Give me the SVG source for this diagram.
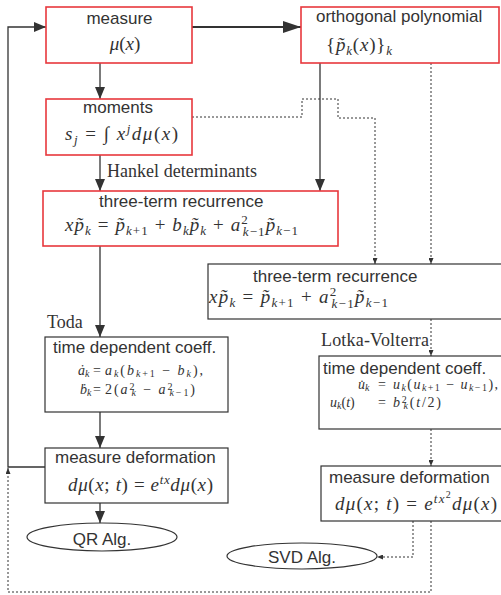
<svg xmlns="http://www.w3.org/2000/svg" width="501" height="595" viewBox="0 0 501 595">
<style>
.t{font-family:"Liberation Sans",Arial,sans-serif;font-size:17px;fill:#333}
.m{font-family:"Liberation Serif","Times New Roman",serif;font-size:19px;fill:#333}
.sm{font-family:"Liberation Serif","Times New Roman",serif;font-size:14px;fill:#333}
.lb{font-family:"Liberation Serif","Times New Roman",serif;font-size:18px;fill:#333}
.i{font-style:italic}
.s{font-size:13px}
.ss{font-size:10px}
.rb{fill:#fff;stroke:#e8383d;stroke-width:1.6}
.gb{fill:#fff;stroke:#333;stroke-width:1.2}
.ln{fill:none;stroke:#333;stroke-width:1.3}
.dt{fill:none;stroke:#333;stroke-width:1;stroke-dasharray:2,2}
</style>
<defs>
<marker id="a" markerUnits="userSpaceOnUse" viewBox="0 0 12 10" markerWidth="12" markerHeight="10" refX="12" refY="5" orient="auto"><path d="M0,0 L12,5 L0,10 Z" fill="#333"/></marker>
<marker id="A" markerUnits="userSpaceOnUse" viewBox="0 0 18 12" markerWidth="18" markerHeight="12" refX="18" refY="6" orient="auto"><path d="M0,0 L18,6 L0,12 Z" fill="#333"/></marker>
<marker id="d" markerUnits="userSpaceOnUse" viewBox="0 0 6 5" markerWidth="6" markerHeight="5" refX="6" refY="2.5" orient="auto"><path d="M0,0 L6,2.5 L0,5 Z" fill="#333"/></marker>
</defs>

<g id="connectors">
<path class="ln" d="M100,63 V99" marker-end="url(#a)"/>
<path class="ln" d="M100,155 V191" marker-end="url(#a)"/>
<path class="ln" d="M100,246 V337" marker-end="url(#a)"/>
<path class="ln" d="M100,412 V448" marker-end="url(#a)"/>
<path class="ln" d="M100,503 V523" marker-end="url(#a)"/>
<path class="ln" d="M320,63 V191" marker-end="url(#a)"/>
<path class="ln" style="stroke-width:2" d="M192,27 H301" marker-end="url(#A)"/>
<path class="ln" d="M45,467 H8 V27 H46" marker-end="url(#a)"/>
<path class="dt" d="M192,117 H302 V99 H338 V118 H375 V264" marker-end="url(#d)"/>
<path class="dt" d="M431,63 V264" marker-end="url(#d)"/>
<path class="dt" d="M431,319 V356" marker-end="url(#d)"/>
<path class="dt" d="M431,429 V466" marker-end="url(#d)"/>
<path class="dt" d="M413,521 V557 H377" marker-end="url(#d)"/>
<path class="dt" d="M431,521 V592 H8 V468" marker-end="url(#d)"/>
<text class="lb" x="107" y="177" textLength="150">Hankel determinants</text>
<text class="lb" x="47" y="328">Toda</text>
<text class="lb" x="321" y="346" textLength="108">Lotka-Volterra</text>
</g>

<g id="measure">
<rect class="rb" x="46" y="7" width="146" height="56"/>
<text class="t" x="119.5" y="24" text-anchor="middle">measure</text>
<text class="m" x="125" y="50" text-anchor="middle"><tspan class="i">μ</tspan>(<tspan class="i">x</tspan>)</text>
</g>

<g id="orthpoly">
<rect class="rb" x="301" y="7" width="198" height="56"/>
<text class="t" x="316" y="22">orthogonal polynomial</text>
<text class="m" x="326" y="51" textLength="66">{<tspan class="i">p̃</tspan><tspan class="i s" baseline-shift="-4">k</tspan>(<tspan class="i">x</tspan>)}<tspan class="i s" baseline-shift="-4">k</tspan></text>
</g>

<g id="moments">
<rect class="rb" x="46" y="99" width="146" height="56"/>
<text class="t" x="118" y="113" text-anchor="middle">moments</text>
<text class="m" x="65" y="140" textLength="113"><tspan class="i">s</tspan><tspan class="i s" baseline-shift="-4">j</tspan> = ∫ <tspan class="i">x</tspan><tspan class="i s" baseline-shift="7">j</tspan><tspan class="i">dμ</tspan>(<tspan class="i">x</tspan>)</text>
</g>

<g id="ttr1">
<rect class="rb" x="43" y="191" width="295" height="55"/>
<text class="t" x="99" y="207">three-term recurrence</text>
<text class="m" x="65" y="231" textLength="233"><tspan class="i">xp̃</tspan><tspan class="i s" baseline-shift="-4">k</tspan> = <tspan class="i">p̃</tspan><tspan class="s" baseline-shift="-4"><tspan class="i">k</tspan>+1</tspan> + <tspan class="i">b</tspan><tspan class="i s" baseline-shift="-4">k</tspan><tspan class="i">p̃</tspan><tspan class="i s" baseline-shift="-4">k</tspan> + <tspan class="i">a</tspan><tspan class="s" baseline-shift="7">2</tspan><tspan class="s" dx="-6" baseline-shift="-5"><tspan class="i">k</tspan>−1</tspan><tspan class="i">p̃</tspan><tspan class="s" baseline-shift="-4"><tspan class="i">k</tspan>−1</tspan></text>
</g>

<g id="ttr2">
<rect class="gb" x="208" y="264" width="300" height="55"/>
<text class="t" x="253" y="282">three-term recurrence</text>
<text class="m" x="209" y="303" textLength="179"><tspan class="i">xp̃</tspan><tspan class="i s" baseline-shift="-4">k</tspan> = <tspan class="i">p̃</tspan><tspan class="s" baseline-shift="-4"><tspan class="i">k</tspan>+1</tspan> + <tspan class="i">a</tspan><tspan class="s" baseline-shift="7">2</tspan><tspan class="s" dx="-6" baseline-shift="-5"><tspan class="i">k</tspan>−1</tspan><tspan class="i">p̃</tspan><tspan class="s" baseline-shift="-4"><tspan class="i">k</tspan>−1</tspan></text>
</g>

<g id="toda">
<rect class="gb" x="45" y="337" width="183" height="75"/>
<text class="t" x="53" y="353">time dependent coeff.</text>
<text class="sm" x="78" y="375"><tspan class="i">ȧ</tspan><tspan class="i ss" baseline-shift="-2">k</tspan></text>
<text class="sm" x="93" y="375">=</text>
<text class="sm" x="105" y="375" textLength="98"><tspan class="i">a</tspan><tspan class="i ss" baseline-shift="-2">k</tspan>(<tspan class="i">b</tspan><tspan class="ss" baseline-shift="-2"><tspan class="i">k</tspan>+1</tspan> − <tspan class="i">b</tspan><tspan class="i ss" baseline-shift="-2">k</tspan>),</text>
<text class="sm" x="80" y="394"><tspan class="i">ḃ</tspan><tspan class="i ss" baseline-shift="-2">k</tspan></text>
<text class="sm" x="93" y="394">=</text>
<text class="sm" x="105" y="394" textLength="90">2(<tspan class="i">a</tspan><tspan class="ss" baseline-shift="4">2</tspan><tspan class="i ss" dx="-5" baseline-shift="-2">k</tspan> − <tspan class="i">a</tspan><tspan class="ss" baseline-shift="4">2</tspan><tspan class="ss" dx="-5" baseline-shift="-2"><tspan class="i">k</tspan>−1</tspan>)</text>
</g>

<g id="lotka">
<rect class="gb" x="319" y="356" width="190" height="73"/>
<text class="t" x="323" y="374">time dependent coeff.</text>
<text class="sm" x="358" y="389"><tspan class="i">u̇</tspan><tspan class="i ss" baseline-shift="-2">k</tspan></text>
<text class="sm" x="378" y="389">=</text>
<text class="sm" x="393" y="389" textLength="105"><tspan class="i">u</tspan><tspan class="i ss" baseline-shift="-2">k</tspan>(<tspan class="i">u</tspan><tspan class="ss" baseline-shift="-2"><tspan class="i">k</tspan>+1</tspan> − <tspan class="i">u</tspan><tspan class="ss" baseline-shift="-2"><tspan class="i">k</tspan>−1</tspan>),</text>
<text class="sm" x="330" y="407"><tspan class="i">u</tspan><tspan class="i ss" baseline-shift="-2">k</tspan>(<tspan class="i">t</tspan>)</text>
<text class="sm" x="378" y="407">=</text>
<text class="sm" x="393" y="407" textLength="48"><tspan class="i">b</tspan><tspan class="ss" baseline-shift="4">2</tspan><tspan class="i ss" dx="-5" baseline-shift="-2">k</tspan>(<tspan class="i">t</tspan>/2)</text>
</g>

<g id="deform1">
<rect class="gb" x="45" y="448" width="183" height="55"/>
<text class="t" x="55" y="463">measure deformation</text>
<text class="m" x="68" y="491" textLength="145"><tspan class="i">dμ</tspan>(<tspan class="i">x</tspan>; <tspan class="i">t</tspan>) = <tspan class="i">e</tspan><tspan class="i s" baseline-shift="7">tx</tspan><tspan class="i">dμ</tspan>(<tspan class="i">x</tspan>)</text>
</g>

<g id="deform2">
<rect class="gb" x="321" y="466" width="190" height="55"/>
<text class="t" x="329" y="483">measure deformation</text>
<text class="m" x="335" y="510" textLength="162"><tspan class="i">dμ</tspan>(<tspan class="i">x</tspan>; <tspan class="i">t</tspan>) = <tspan class="i">e</tspan><tspan class="i s" baseline-shift="7">tx</tspan><tspan class="ss" baseline-shift="12">2</tspan><tspan class="i">dμ</tspan>(<tspan class="i">x</tspan>)</text>
</g>

<g id="qr">
<ellipse cx="102" cy="537" rx="75" ry="14" fill="#fff" stroke="#333" stroke-width="1.2"/>
<text class="t" x="102" y="545" text-anchor="middle">QR Alg.</text>
</g>

<g id="svd">
<ellipse cx="302" cy="556" rx="75" ry="13" fill="#fff" stroke="#333" stroke-width="1.2"/>
<text class="t" x="302" y="563" text-anchor="middle">SVD Alg.</text>
</g>
</svg>
